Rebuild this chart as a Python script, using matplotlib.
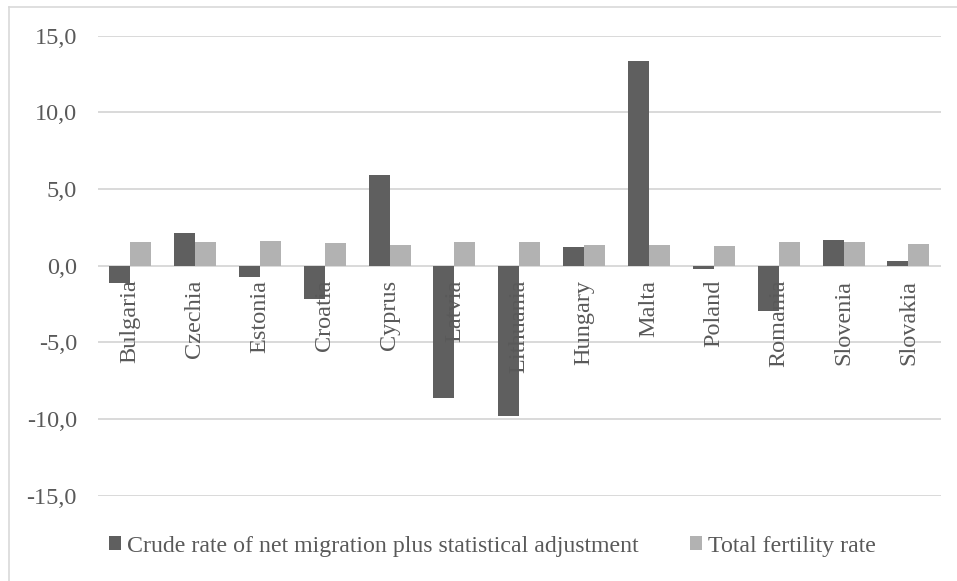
import matplotlib.pyplot as plt
from matplotlib.lines import Line2D
from matplotlib.patches import Patch
import numpy as np

countries = ['Bulgaria', 'Czechia', 'Estonia', 'Croatia', 'Cyprus', 'Latvia', 'Lithuania',
             'Hungary', 'Malta', 'Poland', 'Romania', 'Slovenia', 'Slovakia']
net_migration = [-1.15, 2.12, -0.76, -2.2, 5.91, -8.6, -9.78, 1.2, 13.38, -0.2, -2.98, 1.68, 0.28]
fertility = [1.53, 1.53, 1.59, 1.46, 1.35, 1.53, 1.56, 1.33, 1.33, 1.31, 1.55, 1.53, 1.39]
series_names = ['Crude rate of net migration plus statistical adjustment', 'Total fertility rate']
y_ticks = [-15, -10, -5, 0, 5, 10, 15]

DARK = '#5f5f5f'
LIGHT = '#b2b2b2'
GRID = '#d9d9d9'
TXT = '#595959'

plt.rcParams['font.family'] = ['Liberation Serif', 'DejaVu Serif']
FS = 17.5

fig = plt.figure(figsize=(9.57, 5.81), dpi=100)
ax = fig.add_axes([0.1021, 0.1468, 0.881, 0.7918])

x = np.arange(len(countries))
w = 0.324
ax.bar(x - w / 2, net_migration, w, color=DARK, zorder=2)
ax.bar(x + w / 2, fertility, w, color=LIGHT, zorder=2)

ax.set_xlim(-0.5, len(countries) - 0.5)
ax.set_ylim(-15, 15)
ax.set_yticks(y_ticks)
ax.set_yticklabels([f'{v:.1f}'.replace('.', ',') for v in y_ticks])
ax.grid(axis='y', color=GRID, lw=1.4)
ax.set_axisbelow(True)

# category names hang just under the zero line, on top of the bars
ax.spines['bottom'].set_position(('data', 0))
ax.set_xticks(x)
ax.set_xticklabels(countries)
ax.xaxis.set_zorder(5)

for s in ['top', 'right', 'left', 'bottom']:
    ax.spines[s].set_visible(False)
ax.tick_params(axis='x', length=0, pad=10, labelsize=FS, labelcolor=TXT, labelrotation=90)
ax.tick_params(axis='y', length=0, pad=15, labelsize=FS, labelcolor=TXT)
for lab in ax.get_xticklabels():
    lab.set_ha('center')
    lab.set_va('top')

handles = [Patch(facecolor=DARK), Patch(facecolor=LIGHT)]
fig.legend(handles, series_names, loc='center left', bbox_to_anchor=(0.1144, 0.0602),
           ncol=2, frameon=False, fontsize=17.2, labelcolor=TXT,
           handlelength=0.5, handleheight=0.5, handletextpad=0.25,
           columnspacing=2.13, borderpad=0, borderaxespad=0)

# light chart border (top and left edges)
fig.add_artist(Line2D([0.0099, 1], [0.988, 0.988], color=GRID, lw=1.2, transform=fig.transFigure))
fig.add_artist(Line2D([0.0099, 0.0099], [0, 0.988], color=GRID, lw=1.2, transform=fig.transFigure))

fig.savefig('out.png', dpi=100)
